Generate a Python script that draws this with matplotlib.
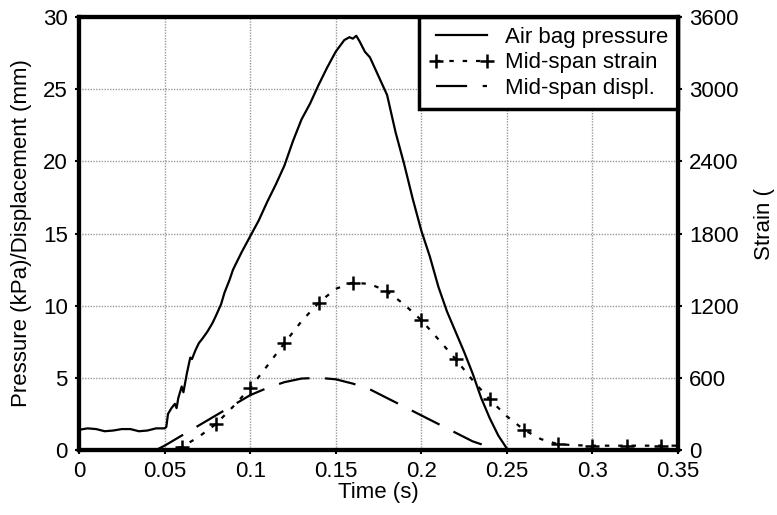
import matplotlib
matplotlib.use("Agg")
import matplotlib.pyplot as plt

plt.rcParams["font.family"] = ["Liberation Sans", "DejaVu Sans"]

# Air bag pressure (kPa)
t_p = [0, 0.005, 0.01, 0.015, 0.02, 0.025, 0.03, 0.035, 0.04, 0.045, 0.05,
       0.051, 0.052, 0.054, 0.056, 0.057, 0.058, 0.06, 0.061, 0.063, 0.065,
       0.066, 0.068, 0.07, 0.072, 0.075, 0.078, 0.08, 0.083, 0.085, 0.088,
       0.09, 0.095, 0.1, 0.105, 0.11, 0.115, 0.12, 0.125, 0.13, 0.135, 0.14,
       0.145, 0.15, 0.155, 0.158, 0.16, 0.162, 0.164, 0.167, 0.17, 0.175,
       0.18, 0.185, 0.19, 0.195, 0.2, 0.205, 0.21, 0.215, 0.22, 0.225, 0.23,
       0.235, 0.24, 0.245, 0.25]
pressure = [1.4, 1.5, 1.45, 1.3, 1.35, 1.45, 1.45, 1.3, 1.35, 1.5, 1.5,
            1.6, 2.5, 2.9, 3.2, 2.9, 3.6, 4.4, 4.0, 5.3, 6.4,
            6.3, 6.9, 7.4, 7.7, 8.2, 8.8, 9.3, 10.1, 10.9, 11.8,
            12.5, 13.7, 14.8, 15.9, 17.2, 18.4, 19.7, 21.4, 22.9, 24.0, 25.3,
            26.5, 27.6, 28.4, 28.6, 28.5, 28.7, 28.3, 27.6, 27.2, 25.9,
            24.6, 22.0, 19.8, 17.4, 15.2, 13.4, 11.3, 9.6, 8.2, 6.8, 5.3,
            3.6, 2.2, 1.0, 0.1]

# Mid-span strain (micro-strain, right axis)
t_s = [0.05, 0.06, 0.07, 0.08, 0.09, 0.10, 0.11, 0.12, 0.13, 0.14, 0.15,
       0.16, 0.17, 0.18, 0.19, 0.20, 0.21, 0.22, 0.23, 0.24, 0.25, 0.26,
       0.27, 0.28, 0.29, 0.30, 0.31, 0.32, 0.33, 0.34, 0.35]
strain = [0, 24, 110, 216, 360, 516, 700, 888, 1070, 1224, 1340,
          1392, 1380, 1320, 1210, 1080, 920, 756, 580, 420, 280, 168,
          90, 48, 40, 36, 36, 36, 36, 36, 36]

# Mid-span displacement (mm)
t_d = [0.045, 0.05, 0.06, 0.07, 0.08, 0.09, 0.1, 0.11, 0.12, 0.13, 0.14,
       0.15, 0.16, 0.17, 0.18, 0.19, 0.2, 0.21, 0.22, 0.23, 0.24, 0.245, 0.25]
displ = [0, 0.3, 1.0, 1.7, 2.4, 3.1, 3.8, 4.3, 4.7, 4.95, 5.0,
         4.9, 4.6, 4.2, 3.6, 3.0, 2.4, 1.8, 1.2, 0.6, 0.2, 0.05, 0]

fig = plt.figure(figsize=(7.77, 5.15), dpi=100)
ax = fig.add_axes([0.1017, 0.1262, 0.7709, 0.8408])
ax2 = ax.twinx()

l1, = ax.plot(t_p, pressure, color="black", lw=1.6, label="Air bag pressure")
l3, = ax.plot(t_d, displ, color="black", lw=1.6, dashes=(14, 7),
              label="Mid-span displ.")
l2, = ax2.plot(t_s, strain, color="black", lw=1.6, dashes=(2, 4),
               marker="+", markersize=10, markeredgewidth=1.8, markevery=(1, 2),
               label="Mid-span strain")

ax.set_xlim(0, 0.35)
ax.set_ylim(0, 30)
ax2.set_ylim(0, 3600)
ax.set_xticks([0, 0.05, 0.1, 0.15, 0.2, 0.25, 0.3, 0.35])
ax.set_xticklabels(["0", "0.05", "0.1", "0.15", "0.2", "0.25", "0.3", "0.35"])
ax.set_yticks(range(0, 31, 5))
ax2.set_yticks(range(0, 3601, 600))

ax.grid(True, color="#999999", linestyle=(0, (1, 1)), lw=1)
for a in (ax, ax2):
    for s in a.spines.values():
        s.set_linewidth(3)
    a.tick_params(labelsize=16, length=3, width=1.5, pad=5)

ax.set_xlabel("Time (s)", fontsize=16, labelpad=0)
ax.set_ylabel("Pressure (kPa)/Displacement (mm)", fontsize=16, labelpad=8)
fig.text(0.984, 0.565, "Strain (", rotation=90, fontsize=16,
         ha="center", va="center")

leg = ax.legend([l1, l2, l3], [l1.get_label(), l2.get_label(), l3.get_label()],
                loc="upper right", borderaxespad=0, fontsize=16, fancybox=False,
                framealpha=1, edgecolor="black", handlelength=2.9,
                labelspacing=0.2, borderpad=0.45, handletextpad=0.5,
                numpoints=2)
leg.get_frame().set_linewidth(2.5)
leg.set_zorder(10)

fig.savefig("out.png", dpi=100)
